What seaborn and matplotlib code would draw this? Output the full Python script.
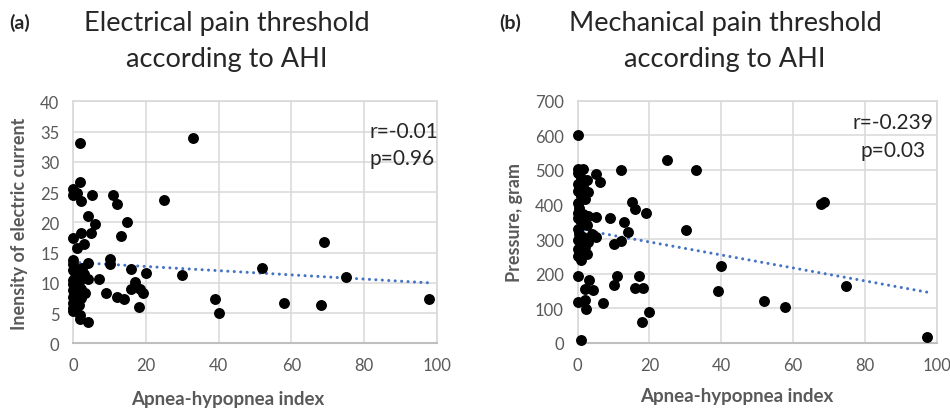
import matplotlib
matplotlib.use("Agg")
import matplotlib.pyplot as plt
import pandas as pd
import seaborn as sns

# (a) Electrical pain threshold vs AHI
ahi_elec = [1.8, 1.8, 0, 0, 2, 1, 5, 3.9, 6, 4.9, 2, 0, 2.9, 1.1, 0, 3.9, 0,
            0, 0.5, 1, 0, 1.5, 2.5, 0, 0.8, 2, 0, 1.2, 3.2, 0, 0.6, 2, 0, 1.5,
            0, 0.8, 0, 1.8, 1.8, 4.1, 3, 2.5, 4.1,
            7.1, 9, 10.1, 10.1, 11, 11.9, 13, 14.9, 11.9, 14, 16, 17, 16, 18.3,
            19.1, 18.2, 20, 25, 30, 33, 39, 40, 52, 58.1, 69, 68.1, 75, 98]
current = [33.1, 26.7, 25.5, 24.5, 23.6, 24.8, 24.5, 21.1, 19.8, 18.2, 18.2,
           17.4, 16.4, 15.7, 13.7, 13.3, 13.1,
           12.2, 11.6, 11.0, 10.5, 10.2, 10.8, 9.8, 9.3, 9.0, 8.8, 8.2, 8.4,
           7.6, 7.2, 7.5, 6.6, 6.3, 5.9, 5.5, 5.4, 4.6, 4.0, 3.6, 11.5, 12.5,
           10.6,
           10.6, 8.3, 13.9, 13.1, 24.5, 23.0, 17.8, 20.0, 7.6, 7.3, 12.3, 10.2,
           9.0, 9.0, 8.3, 6.0, 11.7, 23.7, 11.3, 33.9, 7.4, 5.0, 12.4, 6.6,
           16.7, 6.3, 10.9, 7.3]

# (b) Mechanical pain threshold vs AHI
ahi_mech = [0, 0, 1.4, 5.1, 6.2, 3, 12.2, 15, 16.1, 18.9, 9.1, 5.1, 12.9, 14,
            12.2, 10.1, 5.1, 3.9, 24.9, 33, 30.2, 39.9, 39, 0, 3.1, 4.2, 2, 0,
            2, 2.2, 7.1, 0.9, 11, 10.1, 17.1, 16, 18.2, 20, 17.9, 51.9, 57.7,
            67.8, 68.7, 74.7, 97.4,
            0, 1, 2.5, 0, 1.5, 0, 0.8, 2, 0, 0.5, 0, 1.5, 2.8, 0, 1, 2.5, 0,
            0.5, 1.5, 0, 0.8, 2, 0, 1, 2.5, 0, 1, 3]
pressure = [601, 502, 502, 488, 464, 435, 500, 408, 387, 375, 360, 363, 350,
            319, 295, 285, 305, 314, 529, 500, 327, 223, 150, 192, 182, 152,
            155, 117, 124, 97, 115, 8, 194, 167, 194, 157, 157, 88, 59, 121,
            104, 401, 408, 165, 17,
            490, 478, 470, 460, 450, 440, 425, 415, 405, 390, 375, 372, 368,
            362, 350, 340, 330, 315, 305, 298, 285, 278, 270, 262, 258, 250,
            240, 290]

# linear trendlines
trend_x = [0, 98]
trend_elec = [13.4, 10.0]
trend_mech = [329, 145]

df_elec = pd.DataFrame({"ahi": ahi_elec, "val": current})
df_mech = pd.DataFrame({"ahi": ahi_mech, "val": pressure})

sns.set_theme(style="whitegrid", rc={"grid.color": "#d9d9d9",
                                     "grid.linewidth": 1.1,
                                     "axes.edgecolor": "#d9d9d9"})
plt.rcParams["font.family"] = ["Lato", "DejaVu Sans"]

GRAY = "#595959"
BLUE = "#4472C4"

fig = plt.figure(figsize=(9.5, 4.1), dpi=100)
ax1 = fig.add_axes([0.0772, 0.1602, 0.3825, 0.590])
ax2 = fig.add_axes([0.6081, 0.1617, 0.3779, 0.590])

panels = [
    (ax1, df_elec, trend_elec, (0, 40), range(0, 41, 5),
     "Inensity of electric current", -0.147, 0.426, -0.230),
    (ax2, df_mech, trend_mech, (0, 700), range(0, 701, 100),
     "Pressure, gram", -0.175, 0.444, -0.219),
]

for ax, df, trend, ylim, yticks, ylab, ylx, xlx, xly in panels:
    ax.plot(trend_x, trend, color=BLUE, linestyle=(0, (0.01, 2.1)),
            dash_capstyle="round", linewidth=2.2, zorder=2)
    sns.scatterplot(data=df, x="ahi", y="val", ax=ax, color="black", s=62,
                    linewidth=0, clip_on=False, zorder=3)
    ax.set_xlim(0, 100)
    ax.set_ylim(*ylim)
    ax.set_xticks(range(0, 101, 20))
    ax.set_yticks(list(yticks))
    ax.tick_params(labelsize=12, colors=GRAY, length=0, pad=10)
    ax.set_ylabel(ylab, fontsize=13, fontweight="bold", color=GRAY,
                  va="center")
    ax.yaxis.set_label_coords(ylx, 0.5)
    ax.set_xlabel("Apnea-hypopnea index", fontsize=13.5, fontweight="bold",
                  color=GRAY, va="center")
    ax.xaxis.set_label_coords(xlx, xly)
    for side in ["top", "right", "left"]:
        ax.spines[side].set_color("#d9d9d9")
    ax.spines["bottom"].set_color("#bfbfbf")
    ax.spines["bottom"].set_linewidth(1.5)

ax1.text(81.6, 35.1, "r=-0.01", fontsize=15, ha="left", va="center")
ax1.text(81.6, 30.6, "p=0.96", fontsize=15, ha="left", va="center")
ax2.text(87.9, 637.5, "r=-0.239", fontsize=15, ha="center", va="center")
ax2.text(87.9, 558, "p=0.03", fontsize=15, ha="center", va="center")

fig.text(227 / 950, 1 - 42 / 410,
         "Electrical pain threshold\naccording to AHI",
         fontsize=19.5, ha="center", va="center", linespacing=1.55)
fig.text(725 / 950, 1 - 42 / 410,
         "Mechanical pain threshold\naccording to AHI",
         fontsize=19.5, ha="center", va="center", linespacing=1.55)
fig.text(20 / 950, 1 - 23 / 410, "(a)", fontsize=14, fontweight="bold",
         ha="center", va="center")
fig.text(510 / 950, 1 - 23 / 410, "(b)", fontsize=14, fontweight="bold",
         ha="center", va="center")

fig.savefig("out.png", dpi=100)
